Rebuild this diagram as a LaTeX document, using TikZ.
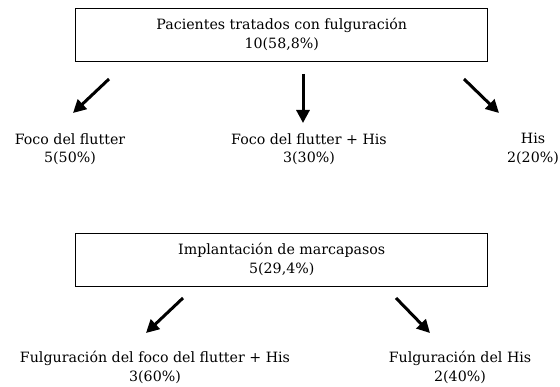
\documentclass[tikz,border=0pt]{standalone}
\usepackage{fontspec}
\setmainfont{DejaVu Serif}
\usetikzlibrary{arrows.meta}
\usetikzlibrary{shapes}

\begin{document}
\begin{tikzpicture}[x = 1pt, y = -1pt]
	\tikzstyle{boxStyle} = [draw, line width = 0.9pt, minimum width = 412pt, minimum height = 53pt, align = center, font = \fontsize{14.2}{19}\selectfont]
	\tikzstyle{labelStyle} = [align = center, inner sep = 0pt, font = \fontsize{14.2}{18.5}\selectfont]
	\tikzstyle{arrowStyle} = [-{Triangle[length = 13pt, width = 13pt]}, line width = 3pt]
	\useasboundingbox (0, 0) rectangle (560, 387);
	% boxes
	\node[boxStyle] (pacientes) at (281.75, 34.5) {Pacientes tratados con fulguración\\10(58,8\%)};
	\node[boxStyle] (marcapasos) at (281.75, 259.5) {Implantación de marcapasos\\5(29,4\%)};
	% labels
	\node[labelStyle] (foco) at (70, 149) {Foco del flutter\\5(50\%)};
	\node[labelStyle] (focoHis) at (309, 149) {Foco del flutter + His\\3(30\%)};
	\node[labelStyle] (his) at (533, 149) {His\\2(20\%)};
	\node[labelStyle] (fulgFoco) at (155, 367.5) {Fulguración del foco del flutter + His\\3(60\%)};
	\node[labelStyle] (fulgHis) at (460, 367.5) {Fulguración del His\\2(40\%)};
	% arrow ends
	\coordinate (a1) at (109, 79);
	\coordinate (b1) at (73, 113);
	\coordinate (a2) at (303, 74);
	\coordinate (b2) at (303, 123);
	\coordinate (a3) at (464, 79);
	\coordinate (b3) at (499, 113);
	\coordinate (a4) at (183, 298);
	\coordinate (b4) at (146, 333);
	\coordinate (a5) at (396, 298);
	\coordinate (b5) at (430, 333);
	\draw[arrowStyle] (a1) -- (b1);
	\draw[arrowStyle] (a2) -- (b2);
	\draw[arrowStyle] (a3) -- (b3);
	\draw[arrowStyle] (a4) -- (b4);
	\draw[arrowStyle] (a5) -- (b5);
\end{tikzpicture}
\end{document}
